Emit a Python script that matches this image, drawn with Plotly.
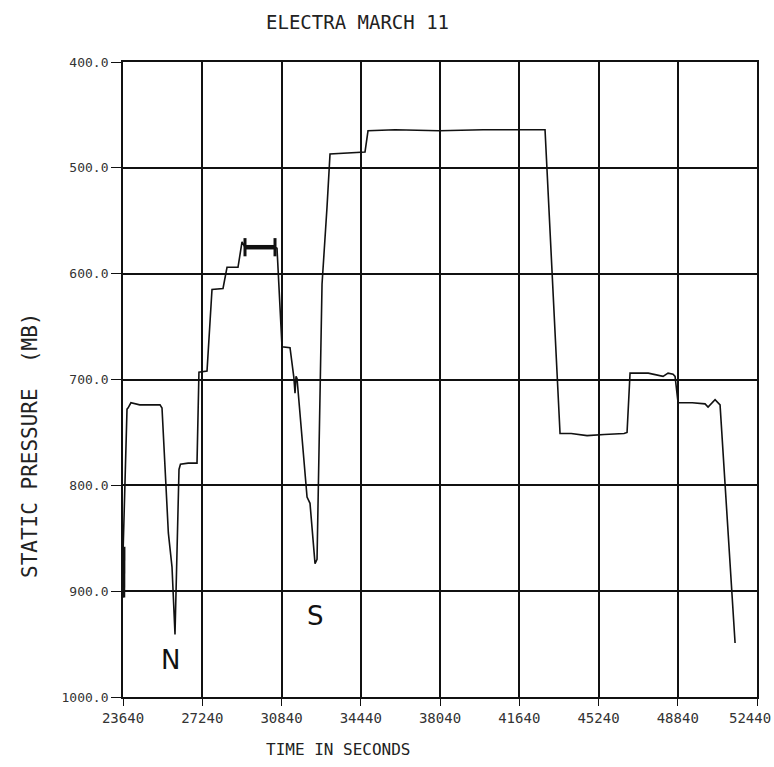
import plotly.graph_objects as go

# Flight record: static pressure (mb) against time of day (seconds)
time_s = [23640, 23650, 23822, 23867, 24000, 24150, 24400, 24900, 25321, 25412,
          25700, 25866, 26002, 26184, 26250, 26600, 27002, 27090, 27456, 27683,
          28183, 28365, 28864, 29046, 29182, 29500, 30000, 30545, 30636, 30863,
          31227, 31400, 31454, 31500, 31545, 32000, 32135, 32363, 32454, 32681,
          32817, 32908, 33044, 34634, 34770, 36000, 38000, 40000, 42811, 43493,
          44000, 44720, 45500, 46400, 46537, 46673, 47500, 48172, 48400, 48627,
          48718, 48854, 49500, 50081, 50217, 50535, 50762, 51444]
pressure_mb = [906, 858, 728, 727, 722, 723, 724, 724, 724, 727,
               845, 877, 941, 785, 780, 779, 779, 693, 692, 615,
               614, 594, 594, 570, 575, 575, 574, 575, 576, 669,
               670, 698, 713, 697, 699, 811, 817, 874, 870, 610,
               559, 537, 487, 485, 465, 464, 465, 464, 464, 751,
               751, 753, 752, 751, 750, 694, 694, 697, 694, 695,
               697, 722, 722, 723, 726, 719, 724, 949]

# Heavily plotted stretches of the trace (index ranges into the series)
bold_ranges = [(0, 2), (24, 28)]

x_ticks = [23640, 27240, 30840, 34440, 38040, 41640, 45240, 48840, 52440]
x_tick_text = [str(v) for v in x_ticks]
y_ticks = [400, 500, 600, 700, 800, 900, 1000]
y_tick_text = [f"{v:.1f}" for v in y_ticks]

# Leg markers written on the chart
leg_labels = ["N", "S"]
leg_time = [25775, 32363]
leg_pressure = [965, 923]

ink = "#111111"
font_family = "DejaVu Sans Mono"
tick_font_x = dict(family=font_family, size=14, color="#333333")

fig = go.Figure()
fig.add_trace(go.Scatter(
    x=time_s, y=pressure_mb, mode="lines",
    line=dict(color=ink, width=1.6), showlegend=False, hoverinfo="skip"))

for i0, i1 in bold_ranges:
    fig.add_trace(go.Scatter(
        x=time_s[i0:i1], y=pressure_mb[i0:i1], mode="lines",
        line=dict(color=ink, width=4.5), showlegend=False, hoverinfo="skip"))

# end caps of the heavy segment
i0, i1 = bold_ranges[1]
fig.add_trace(go.Scatter(
    x=[time_s[i0], time_s[i1 - 1]], y=[pressure_mb[i0], pressure_mb[i1 - 1]],
    mode="markers",
    marker=dict(symbol="line-ns", size=13, line=dict(color=ink, width=3)),
    showlegend=False, hoverinfo="skip"))

for lab, tx, py in zip(leg_labels, leg_time, leg_pressure):
    fig.add_annotation(x=tx, y=py, xref="x", yref="y", text=lab, showarrow=False,
                       font=dict(family="DejaVu Sans", size=26, color=ink))

axis_common = dict(
    showgrid=True, gridcolor=ink, gridwidth=1.8,
    showline=True, linecolor=ink, linewidth=1.8, mirror=True,
    tickcolor=ink, tickwidth=1.4, ticks="outside",
    zeroline=False, automargin=False,
)

# the last time label sits against the page edge, so it is placed right-aligned
fig.update_xaxes(range=[23640, 52440], tickmode="array", tickvals=x_ticks,
                 ticktext=x_tick_text[:-1] + [""], ticklen=7,
                 tickfont=tick_font_x, **axis_common)
fig.add_annotation(text=x_tick_text[-1], x=x_ticks[-1], xref="x",
                   y=0, yref="paper", yshift=-11, xshift=16,
                   xanchor="right", yanchor="top", showarrow=False,
                   font=tick_font_x)

fig.update_yaxes(range=[1000, 400], tickmode="array", tickvals=y_ticks,
                 ticktext=y_tick_text, ticklen=10,
                 tickfont=dict(family=font_family, size=13, color="#333333"),
                 **axis_common)

fig.add_annotation(text="ELECTRA MARCH 11", xref="paper", yref="paper",
                   x=(357 - 123) / 634, y=1 + (62 - 22) / 635, showarrow=False,
                   xanchor="center", yanchor="middle",
                   font=dict(family=font_family, size=19, color="#222222"))
fig.add_annotation(text="TIME IN SECONDS", xref="paper", yref="paper",
                   x=(338 - 123) / 634, y=-(749 - 697) / 635, showarrow=False,
                   xanchor="center", yanchor="middle",
                   font=dict(family=font_family, size=16, color="#222222"))
fig.add_annotation(text="STATIC PRESSURE  (MB)", xref="paper", yref="paper",
                   x=-(123 - 30) / 634, y=(697 - 445) / 635, showarrow=False,
                   xanchor="center", yanchor="middle", textangle=-90,
                   font=dict(family=font_family, size=21, color="#222222"))

fig.update_layout(
    width=774, height=767,
    margin=dict(l=123, r=17, t=62, b=70, autoexpand=False),
    paper_bgcolor="white", plot_bgcolor="white",
    showlegend=False,
)

fig.write_html("out.html")
